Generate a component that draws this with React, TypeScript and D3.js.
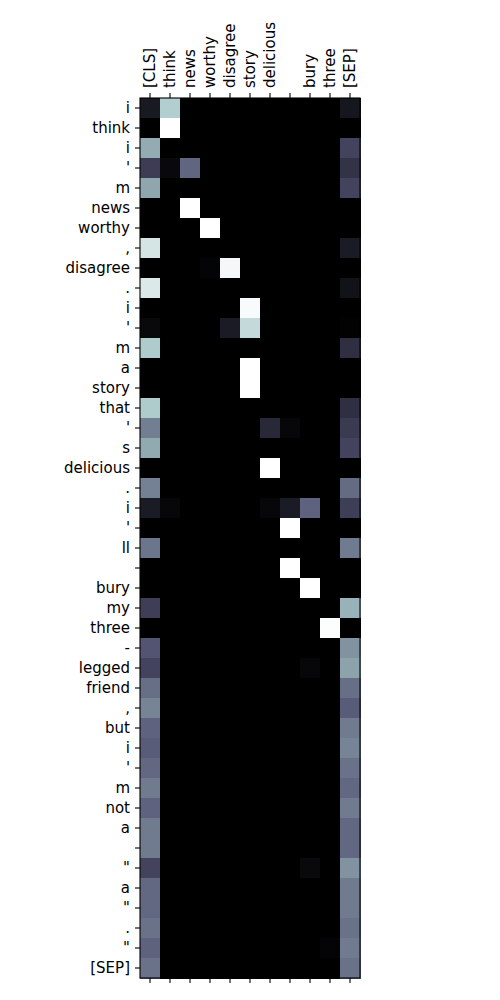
import * as d3 from "d3";

// ── Data ──────────────────────────────────────────────────
const colTokens = ["[CLS]", "think", "news", "worthy", "disagree", "story", "delicious", "", "bury", "three", "[SEP]"];

const rowTokens = [
  "i", "think", "i", "'", "m", "news", "worthy", ",", "disagree", ".",
  "i", "'", "m", "a", "story", "that", "'", "s", "delicious", ".",
  "i", "'", "ll", "", "bury", "my", "three", "-", "legged", "friend",
  ",", "but", "i", "'", "m", "not", "a", "", "\"", "a",
  "\"", ".", "\"", "[SEP]",
];

// attention weights, one row per token (columns follow colTokens)
const weights: number[][] = [
  [0.11, 0.78, 0, 0, 0, 0, 0, 0, 0, 0, 0.10],
  [0, 1.0, 0, 0, 0, 0, 0, 0, 0, 0, 0],
  [0.66, 0, 0, 0, 0, 0, 0, 0, 0, 0, 0.30],
  [0.27, 0.04, 0.43, 0, 0, 0, 0, 0, 0, 0, 0.23],
  [0.64, 0, 0, 0, 0, 0, 0, 0, 0, 0, 0.30],
  [0, 0, 1.0, 0, 0, 0, 0, 0, 0, 0, 0],
  [0, 0, 0, 1.0, 0, 0, 0, 0, 0, 0, 0],
  [0.88, 0, 0, 0, 0, 0, 0, 0, 0, 0, 0.12],
  [0, 0, 0, 0.02, 0.97, 0, 0, 0, 0, 0, 0],
  [0.90, 0, 0, 0, 0, 0, 0, 0, 0, 0, 0.08],
  [0, 0, 0, 0, 0, 0.98, 0, 0, 0, 0, 0],
  [0.04, 0, 0, 0, 0.12, 0.83, 0, 0, 0, 0, 0.01],
  [0.77, 0, 0, 0, 0, 0, 0, 0, 0, 0, 0.21],
  [0, 0, 0, 0, 0, 1.0, 0, 0, 0, 0, 0],
  [0, 0, 0, 0, 0, 1.0, 0, 0, 0, 0, 0],
  [0.77, 0, 0, 0, 0, 0, 0, 0, 0, 0, 0.21],
  [0.51, 0, 0, 0, 0, 0, 0.18, 0.03, 0, 0, 0.26],
  [0.65, 0, 0, 0, 0, 0, 0, 0, 0, 0, 0.30],
  [0, 0, 0, 0, 0, 0, 1.0, 0, 0, 0, 0],
  [0.52, 0, 0, 0, 0, 0, 0, 0, 0, 0, 0.45],
  [0.12, 0.03, 0, 0, 0, 0, 0.03, 0.12, 0.42, 0, 0.28],
  [0, 0, 0, 0, 0, 0, 0, 1.0, 0, 0, 0],
  [0.48, 0, 0, 0, 0, 0, 0, 0, 0, 0, 0.50],
  [0, 0, 0, 0, 0, 0, 0, 1.0, 0, 0, 0],
  [0, 0, 0, 0, 0, 0, 0, 0, 1.0, 0, 0],
  [0.28, 0, 0, 0, 0, 0, 0, 0, 0, 0, 0.68],
  [0, 0, 0, 0, 0, 0, 0, 0, 0, 0.99, 0],
  [0.37, 0, 0, 0, 0, 0, 0, 0, 0, 0, 0.58],
  [0.30, 0, 0, 0, 0, 0, 0, 0, 0.03, 0, 0.63],
  [0.46, 0, 0, 0, 0, 0, 0, 0, 0, 0, 0.46],
  [0.53, 0, 0, 0, 0, 0, 0, 0, 0, 0, 0.40],
  [0.42, 0, 0, 0, 0, 0, 0, 0, 0, 0, 0.50],
  [0.40, 0, 0, 0, 0, 0, 0, 0, 0, 0, 0.53],
  [0.44, 0, 0, 0, 0, 0, 0, 0, 0, 0, 0.47],
  [0.50, 0, 0, 0, 0, 0, 0, 0, 0, 0, 0.44],
  [0.42, 0, 0, 0, 0, 0, 0, 0, 0, 0, 0.50],
  [0.50, 0, 0, 0, 0, 0, 0, 0, 0, 0, 0.44],
  [0.50, 0, 0, 0, 0, 0, 0, 0, 0, 0, 0.44],
  [0.30, 0, 0, 0, 0, 0, 0, 0, 0.04, 0, 0.58],
  [0.44, 0, 0, 0, 0, 0, 0, 0, 0, 0, 0.50],
  [0.44, 0, 0, 0, 0, 0, 0, 0, 0, 0, 0.50],
  [0.47, 0, 0, 0, 0, 0, 0, 0, 0, 0, 0.47],
  [0.42, 0, 0, 0, 0, 0, 0, 0, 0, 0.02, 0.50],
  [0.47, 0, 0, 0, 0, 0, 0, 0, 0, 0, 0.47],
];

// ── Layout ────────────────────────────────────────────────
const VW = 500;
const VH = 1000;
const left = 140;
const top = 98;
const cell = 20;
const innerW = colTokens.length * cell;
const innerH = rowTokens.length * cell;
const TICK = 5;
const PAD = 5;
const FONT = "'DejaVu Sans', sans-serif";
const FS = 15;

// ── Scales ────────────────────────────────────────────────
const x = d3.scaleBand<number>().domain(d3.range(colTokens.length)).range([left, left + innerW]);
const y = d3.scaleBand<number>().domain(d3.range(rowTokens.length)).range([top, top + innerH]);

// matplotlib "bone" colormap
const boneR = d3.scaleLinear().domain([0, 0.746032, 1]).range([0, 0.652778, 1]).clamp(true);
const boneG = d3.scaleLinear().domain([0, 0.365079, 0.746032, 1]).range([0, 0.319444, 0.777778, 1]).clamp(true);
const boneB = d3.scaleLinear().domain([0, 0.365079, 1]).range([0, 0.444444, 1]).clamp(true);
const bone = (v: number) => d3.rgb(boneR(v) * 255, boneG(v) * 255, boneB(v) * 255).formatHex();

export default function App() {
  return (
    <svg width={VW} height={VH} style={{ position: "absolute", left: 0, top: 0, background: "#fff" }}>
      {/* cells */}
      {weights.map((row, i) =>
        row.map((v, j) => (
          <rect key={`${i}-${j}`} x={x(j)} y={y(i)} width={x.bandwidth() + 0.5} height={y.bandwidth() + 0.5}
            fill={bone(v)} shapeRendering="crispEdges" />
        ))
      )}

      {/* frame */}
      <rect x={left} y={top} width={innerW} height={innerH} fill="none" stroke="#000" strokeWidth={1.1} />

      {/* top ticks + labels */}
      {colTokens.map((t, j) => {
        const cx = x(j)! + x.bandwidth() / 2;
        return (
          <g key={`c${j}`}>
            <line x1={cx} x2={cx} y1={top} y2={top - TICK} stroke="#000" strokeWidth={1.1} />
            <line x1={cx} x2={cx} y1={top + innerH} y2={top + innerH + TICK} stroke="#000" strokeWidth={1.1} />
            <text transform={`translate(${cx},${top - TICK - PAD}) rotate(-90)`}
              dominantBaseline="central" fontSize={FS} fontFamily={FONT} fill="#000">
              {t}
            </text>
          </g>
        );
      })}

      {/* left ticks + labels */}
      {rowTokens.map((t, i) => {
        const cy = y(i)! + y.bandwidth() / 2;
        return (
          <g key={`r${i}`}>
            <line x1={left} x2={left - TICK} y1={cy} y2={cy} stroke="#000" strokeWidth={1.1} />
            <text x={left - TICK - PAD} y={cy} textAnchor="end" dominantBaseline="central"
              fontSize={FS} fontFamily={FONT} fill="#000">
              {t}
            </text>
          </g>
        );
      })}
    </svg>
  );
}
